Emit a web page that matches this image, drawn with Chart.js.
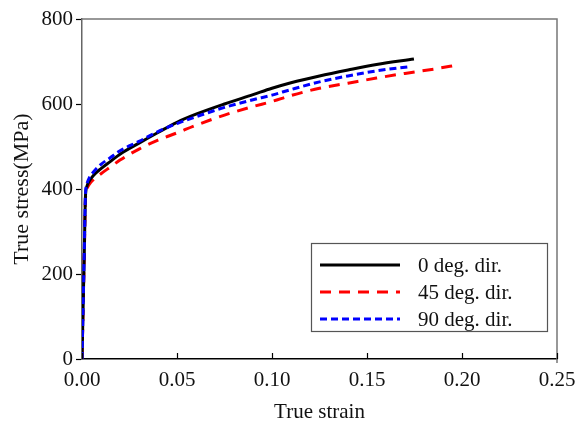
<!DOCTYPE html>
<html>
<head>
<meta charset="utf-8">
<script src="https://cdn.jsdelivr.net/npm/chart.js@4.4.1/dist/chart.umd.min.js"></script>
<style>
  html, body { margin: 0; padding: 0; background: #fff; }
  #wrap { width: 575px; height: 423px; position: relative; }
</style>
</head>
<body>
<div id="wrap"><canvas id="stressChart" width="575" height="423"></canvas></div>
<script>
// Series (strain, stress in MPa)
const strain0 = [0, 0.0012, 0.0018, 0.0025, 0.004, 0.006, 0.01, 0.015, 0.02, 0.03, 0.04, 0.05, 0.06, 0.075, 0.09, 0.10, 0.11, 0.125, 0.14, 0.155, 0.1747];
const stress0 = [0, 250, 380, 405, 420, 432, 448, 465, 482, 508, 533, 557, 576, 600, 622, 637, 650, 666, 680, 693, 706];

const strain45 = [0, 0.0012, 0.0018, 0.0025, 0.004, 0.006, 0.01, 0.015, 0.02, 0.03, 0.04, 0.05, 0.06, 0.075, 0.09, 0.10, 0.11, 0.125, 0.14, 0.155, 0.17, 0.185, 0.198];
const stress45 = [0, 245, 375, 398, 412, 422, 436, 452, 468, 494, 515, 532, 550, 574, 594, 606, 620, 637, 649, 661, 672, 682, 692];

const strain90 = [0, 0.0012, 0.0018, 0.0025, 0.004, 0.006, 0.01, 0.015, 0.02, 0.03, 0.04, 0.05, 0.06, 0.075, 0.09, 0.10, 0.11, 0.125, 0.14, 0.155, 0.1726];
const stress90 = [0, 255, 385, 410, 428, 440, 458, 474, 490, 512, 535, 554, 570, 592, 610, 621, 634, 652, 666, 678, 688];

const seriesLabels = ["0 deg. dir.", "45 deg. dir.", "90 deg. dir."];
const xTicks = [0, 0.05, 0.10, 0.15, 0.20, 0.25];
const yTicks = [0, 200, 400, 600, 800];

function toPoints(xs, ys) {
  return xs.map((x, i) => ({ x: x, y: ys[i] }));
}

const serif = "'Liberation Serif', 'Times New Roman', serif";

// Frame: gray top/right edges plus inward ticks on the strain axis
const framePlugin = {
  id: "frame",
  afterDraw(chart) {
    const { ctx, chartArea: a, scales } = chart;
    ctx.save();
    ctx.strokeStyle = "#777";
    ctx.lineWidth = 1.5;
    ctx.beginPath();
    ctx.moveTo(a.left, a.top);
    ctx.lineTo(a.right, a.top);
    ctx.lineTo(a.right, a.bottom + 4);
    ctx.stroke();

    ctx.strokeStyle = "#000";
    ctx.lineWidth = 1.2;
    xTicks.forEach(v => {
      const px = Math.round(scales.x.getPixelForValue(v)) + 0.5;
      ctx.beginPath();
      ctx.moveTo(px, a.bottom);
      ctx.lineTo(px, a.bottom - 6);
      ctx.stroke();
    });
    ctx.restore();
  }
};

// Boxed legend inside the plot, lower right
const boxLegend = {
  id: "boxLegend",
  afterDraw(chart) {
    const ctx = chart.ctx;
    const bx = 311, by = 243, bw = 236, bh = 88;
    ctx.save();
    ctx.fillStyle = "#fff";
    ctx.fillRect(bx, by, bw, bh);
    ctx.strokeStyle = "#555";
    ctx.lineWidth = 1.2;
    ctx.strokeRect(bx + 0.5, by + 0.5, bw, bh);

    ctx.font = "21px " + serif;
    ctx.textBaseline = "middle";
    ctx.fillStyle = "#111";
    chart.data.datasets.forEach((ds, i) => {
      const y = by + 22 + i * 27;
      ctx.strokeStyle = ds.borderColor;
      ctx.lineWidth = ds.borderWidth;
      ctx.setLineDash(ds.borderDash || []);
      ctx.beginPath();
      ctx.moveTo(bx + 9, y);
      ctx.lineTo(bx + 89, y);
      ctx.stroke();
      ctx.setLineDash([]);
      ctx.fillText(ds.label, bx + 107, y + 1);
    });
    ctx.restore();
  }
};

const ctx = document.getElementById("stressChart").getContext("2d");
new Chart(ctx, {
  type: "line",
  data: {
    datasets: [
      {
        label: seriesLabels[0],
        data: toPoints(strain0, stress0),
        borderColor: "#000",
        borderWidth: 3,
        order: 1,
      },
      {
        label: seriesLabels[1],
        data: toPoints(strain45, stress45),
        borderColor: "#f00",
        borderWidth: 3,
        borderDash: [11, 8],
        order: 2,
      },
      {
        label: seriesLabels[2],
        data: toPoints(strain90, stress90),
        borderColor: "#00f",
        borderWidth: 3,
        borderDash: [7, 4],
        order: 0,
      },
    ],
  },
  options: {
    responsive: false,
    animation: false,
    elements: {
      point: { radius: 0 },
      line: { cubicInterpolationMode: "monotone", fill: false },
    },
    layout: { padding: { top: 19, right: 18, left: 0, bottom: 0 } },
    plugins: {
      legend: { display: false },
      tooltip: { enabled: false },
    },
    scales: {
      x: {
        type: "linear",
        min: 0,
        max: 0.25,
        afterBuildTicks(scale) {
          scale.ticks = xTicks.map(v => ({ value: v }));
        },
        afterFit(scale) {
          scale.height = 64;
          scale.paddingLeft = 0;
          scale.paddingRight = 0;
        },
        grid: { display: true, drawOnChartArea: false, drawTicks: false },
        border: { display: true, color: "#000", width: 1.5 },
        ticks: {
          padding: 9,
          color: "#111",
          font: { family: serif, size: 21 },
          callback: v => Number(v).toFixed(2),
        },
        title: {
          display: true,
          text: "True strain",
          color: "#111",
          font: { family: serif, size: 21 },
          padding: { top: 0, bottom: -2 },
        },
      },
      y: {
        type: "linear",
        min: 0,
        max: 800,
        afterBuildTicks(scale) {
          scale.ticks = yTicks.map(v => ({ value: v }));
        },
        afterFit(scale) {
          scale.width = 82;
          scale.paddingTop = 0;
          scale.paddingBottom = 0;
        },
        grid: { display: true, drawOnChartArea: false, drawTicks: true, tickLength: 6, color: "#000", tickWidth: 1.2 },
        border: { display: true, color: "#666", width: 1.5 },
        ticks: {
          padding: 3,
          color: "#111",
          font: { family: serif, size: 21 },
        },
        title: {
          display: true,
          text: "True stress(MPa)",
          color: "#111",
          font: { family: serif, size: 22 },
          padding: { top: 9, bottom: 0 },
        },
      },
    },
  },
  plugins: [framePlugin, boxLegend],
});
</script>
</body>
</html>
